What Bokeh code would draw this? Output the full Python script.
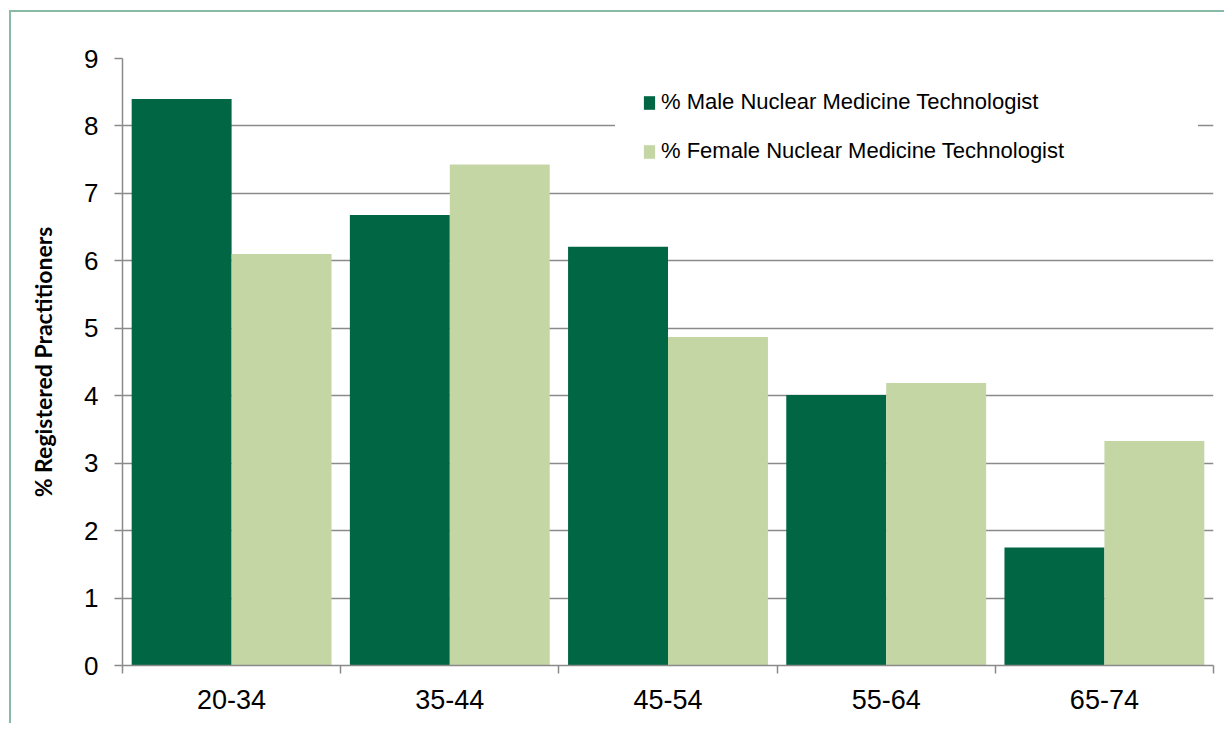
from bokeh.plotting import figure
from bokeh.models import (ColumnDataSource, Range1d, FixedTicker, Legend, LegendItem)
from bokeh.transform import dodge
from bokeh.embed import file_html
from bokeh.resources import INLINE

# ---- data ----
age_groups = ["20-34", "35-44", "45-54", "55-64", "65-74"]
male_pct = [8.40, 6.68, 6.21, 4.01, 1.75]
female_pct = [6.10, 7.43, 4.87, 4.19, 3.33]
y_ticks = [0, 1, 2, 3, 4, 5, 6, 7, 8, 9]
male_label = "% Male Nuclear Medicine Technologist"
female_label = "% Female Nuclear Medicine Technologist"
y_title = "% Registered Practitioners"

MALE_COLOR = "#006644"
FEMALE_COLOR = "#c5d6a5"
GRID_COLOR = "#8a8a8a"
BORDER_COLOR = "#88baa5"

n = len(age_groups)
centers = [i + 0.5 for i in range(n)]
bar_w = 0.458

source = ColumnDataSource(dict(x=centers, male=male_pct, female=female_pct, label=age_groups))

p = figure(width=1215, height=713, output_backend="svg", toolbar_location=None,
           x_range=Range1d(0, n), y_range=Range1d(0, 9),
           min_border_left=111, min_border_top=46, min_border_right=13, min_border_bottom=60)
p.margin = (10, 0, 0, 9)
p.styles = {"border-left": f"2px solid {BORDER_COLOR}", "border-top": f"2px solid {BORDER_COLOR}"}
p.outline_line_color = None
p.background_fill_color = "white"
p.border_fill_color = "white"

r_m = p.vbar(x=dodge("x", -bar_w / 2, range=p.x_range), top="male", width=bar_w, source=source,
             fill_color=MALE_COLOR, line_color=None)
r_f = p.vbar(x=dodge("x", bar_w / 2, range=p.x_range), top="female", width=bar_w, source=source,
             fill_color=FEMALE_COLOR, line_color=None)

# y axis
p.yaxis.ticker = FixedTicker(ticks=y_ticks)
p.yaxis.axis_line_color = GRID_COLOR
p.yaxis.axis_line_width = 1.5
p.yaxis.major_tick_line_color = GRID_COLOR
p.yaxis.major_tick_line_width = 1.5
p.yaxis.major_tick_out = 8
p.yaxis.major_tick_in = 0
p.yaxis.minor_tick_line_color = None
p.yaxis.major_label_text_font = "Liberation Sans"
p.yaxis.major_label_text_font_size = "26px"
p.yaxis.major_label_text_color = "black"
p.yaxis.major_label_standoff = 16
p.yaxis.axis_label = y_title
p.yaxis.axis_label_text_font = "Lato"
p.yaxis.axis_label_text_font_style = "bold"
p.yaxis.axis_label_text_font_size = "23px"
p.yaxis.axis_label_text_color = "black"
p.yaxis.axis_label_standoff = 24

# x axis: boundary ticks as minor ticks, labels at centers
p.xaxis.ticker = FixedTicker(ticks=centers, minor_ticks=list(range(n + 1)))
p.xaxis.major_label_overrides = {c: lab for c, lab in zip(centers, age_groups)}
p.xaxis.major_tick_line_color = None
p.xaxis.major_tick_out = 0
p.xaxis.minor_tick_line_color = GRID_COLOR
p.xaxis.minor_tick_line_width = 1.5
p.xaxis.minor_tick_out = 8
p.xaxis.minor_tick_in = 0
p.xaxis.axis_line_color = GRID_COLOR
p.xaxis.axis_line_width = 1.5
p.xaxis.major_label_text_font = "Liberation Sans"
p.xaxis.major_label_text_font_size = "27px"
p.xaxis.major_label_text_color = "black"
p.xaxis.major_label_standoff = 16

p.xgrid.grid_line_color = None
p.ygrid.ticker = FixedTicker(ticks=y_ticks[1:])
p.ygrid.grid_line_color = GRID_COLOR
p.ygrid.grid_line_width = 1.5

# white legend box: a wide white border acts as the box's inner margin
legend = Legend(items=[LegendItem(label=male_label, renderers=[r_m]),
                       LegendItem(label=female_label, renderers=[r_f])],
                location=(493, 474), padding=0, spacing=23,
                glyph_width=14, glyph_height=17, label_standoff=5, label_width=510,
                label_text_font="Liberation Sans", label_text_font_size="22px",
                label_text_color="black",
                border_line_color="white", border_line_width=27, border_line_join="miter",
                background_fill_color="white", background_fill_alpha=1.0, margin=0)
p.add_layout(legend)

open("out.html", "w").write(file_html(p, INLINE))
